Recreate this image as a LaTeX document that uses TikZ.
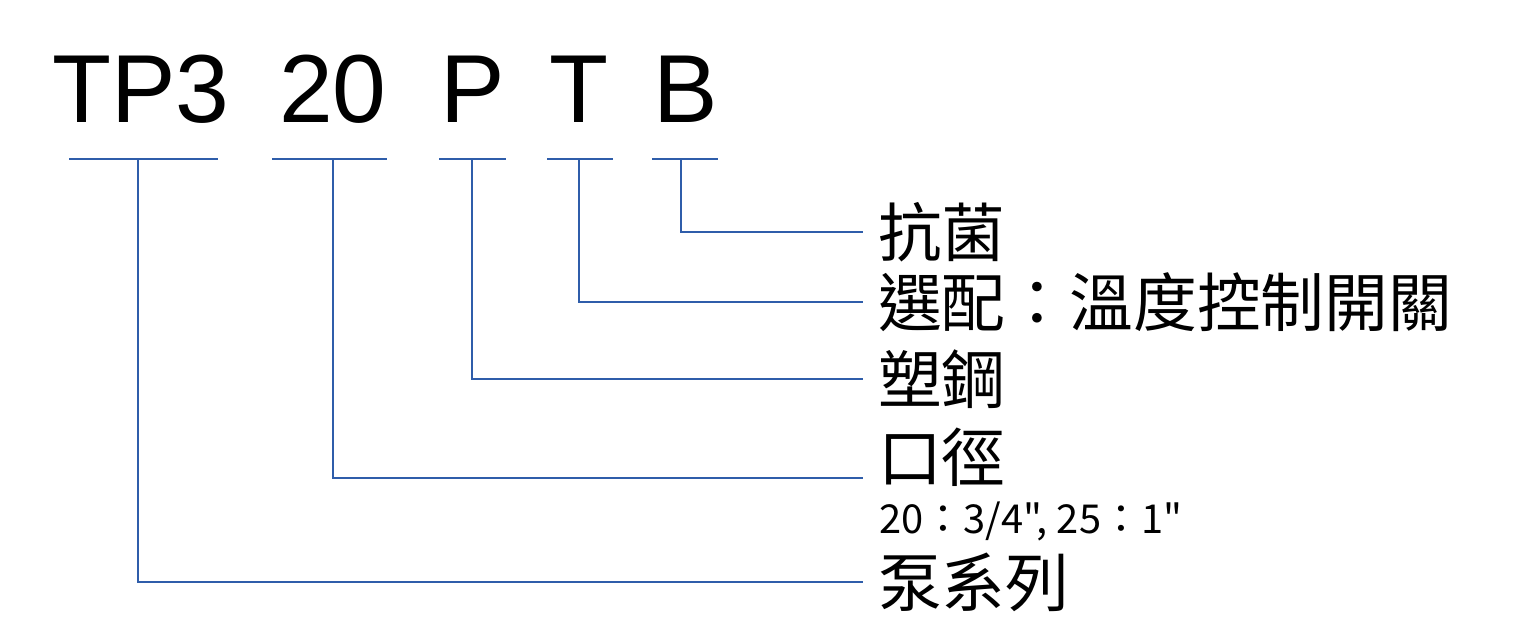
\documentclass[tikz,border=0pt]{standalone}
\usepackage{fontspec}
\usetikzlibrary{positioning}
\newfontfamily\cjkfont{Noto Sans CJK TC}
\newfontfamily\codefont{Liberation Sans}
\definecolor{leadblue}{RGB}{47,93,170}
\tikzset{
  code/.style={font=\codefont\fontsize{97}{97}\selectfont, inner sep=0pt, anchor=base},
  lead/.style={draw=leadblue, line width=1.5bp},
  desc/.style={font=\cjkfont\fontsize{64}{64}\selectfont, inner sep=0pt, anchor=west},
  note/.style={font=\cjkfont\fontsize{40}{40}\selectfont, inner sep=0pt, anchor=west}
}
\begin{document}
\begin{tikzpicture}[x=1bp,y=-1bp]
\useasboundingbox (0,0) rectangle (1536,638);
% model code
\node[code] (tp) at (141,123) {TP3};
\node[code] (sz) at (333,123) {20};
\node[code] (mat) at (473,123) {P};
\node[code] (tmp) at (579,123) {T};
\node[code] (ab) at (686,123) {B};

% underlines and their middles
\coordinate (tpL) at (69,159);  \coordinate (tpR) at (218,159);  \coordinate (tpM) at (138,159);
\coordinate (szL) at (272,159); \coordinate (szR) at (387,159);  \coordinate (szM) at (333,159);
\coordinate (matL) at (439,159); \coordinate (matR) at (506,159); \coordinate (matM) at (472,159);
\coordinate (tmpL) at (547,159); \coordinate (tmpR) at (613,159); \coordinate (tmpM) at (579,159);
\coordinate (abL) at (652,159); \coordinate (abR) at (718,159);  \coordinate (abM) at (681,159);

% line ends
\coordinate (abE) at (863,232);
\coordinate (tmpE) at (863,302);
\coordinate (matE) at (863,379);
\coordinate (szE) at (863,478);
\coordinate (tpE) at (863,582);

% labels
\node[desc, right=15bp of abE] (abl) {抗菌};
\node[desc, right=15bp of tmpE] (tmpl) {選配：溫度控制開關};
\node[desc, right=15bp of matE] (matl) {塑鋼};
\node[desc] (szl) at ([xshift=15bp,yshift=21bp]szE) {口徑};
\node[note] (szn) at (879,521) {20：3/4", 25：1"};
\node[desc, right=15bp of tpE] (tpl) {泵系列};

\foreach \k in {tp,sz,mat,tmp,ab}
  \draw[lead] (\k L) -- (\k R) (\k M) |- (\k E);
\end{tikzpicture}
\end{document}
